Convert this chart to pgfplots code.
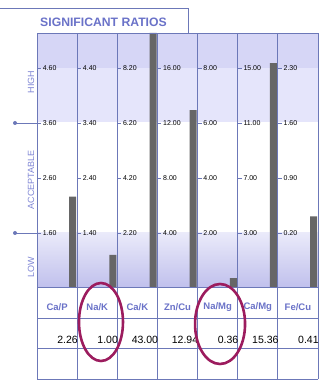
\documentclass[border=0pt]{standalone}
\usepackage{pgfplots}
\pgfplotsset{compat=1.18}
\usepackage{fontspec}
\setmainfont{Liberation Sans}
\definecolor{gridc}{HTML}{6C78B8}
\definecolor{hitop}{HTML}{D6D6F6}
\definecolor{hilow}{HTML}{E5E5FB}
\definecolor{lowb}{HTML}{E1E1F8}
\definecolor{barc}{HTML}{666666}
\definecolor{labc}{HTML}{6A72C8}
\definecolor{sidec}{HTML}{7E85D4}
\definecolor{ringc}{HTML}{9C1C5E}
\newcommand\tl[3]{\draw[gridc, line width=0.6pt] (axis cs:#1,#2) -- ([xshift=4pt]axis cs:#1,#2) node[right, font=\fontsize{7}{8}\selectfont, text=black, inner sep=1.5pt] {#3};}
\begin{document}
\begin{tikzpicture}
\path[use as bounding box] (0pt,0pt) rectangle (330pt,383pt);
\begin{axis}[
  at={(37pt,4pt)}, anchor=south west,
  scale only axis, width=281pt, height=346pt,
  xmin=0, xmax=7, ymin=-92, ymax=254,
  axis lines=none, clip=false,
]
% background bands
\fill[hitop] (axis cs:0,219) rectangle (axis cs:7,254);
\fill[hilow] (axis cs:0,165) rectangle (axis cs:7,219);
\fill[white] (axis cs:0,54) rectangle (axis cs:7,165);
\shade[top color=lowb!70!white, bottom color=lowb!90!blue!95!black] (axis cs:0,0) rectangle (axis cs:7,54);
\fill[white] (axis cs:0,-92) rectangle (axis cs:7,0);
% bars
\addplot[ybar, bar width=7pt, fill=barc, draw=none]
 table[x expr=\thisrow{c}+0.89, y expr={min(54+55*(\thisrow{v}-\thisrow{lo})/\thisrow{step},254)}] {
 c v lo step
 0 2.26 1.60 1.00
 1 1.00 1.40 1.00
 2 43.00 2.20 2.00
 3 12.94 4.00 4.00
 4 0.36 2.00 2.00
 5 15.36 3.00 4.00
 6 0.41 0.20 0.70
 };
% grid
\draw[gridc, line width=0.8pt] (axis cs:0,254) -- (axis cs:7,254);
\draw[gridc, line width=0.8pt] (axis cs:0,0) -- (axis cs:7,0);
\draw[gridc, line width=0.8pt] (axis cs:0,-31) -- (axis cs:7,-31);
\draw[gridc, line width=0.8pt] (axis cs:0,-61) -- (axis cs:7,-61);
\draw[gridc, line width=0.8pt] (axis cs:0,-92) -- (axis cs:7,-92);
\pgfplotsinvokeforeach{0,1,2,3,4,5,6,7}{\draw[gridc, line width=0.8pt] (axis cs:#1,-92) -- (axis cs:#1,254);}
% ticks
\tl{0}{54}{1.60}\tl{0}{109}{2.60}\tl{0}{164}{3.60}\tl{0}{219}{4.60}
\tl{1}{54}{1.40}\tl{1}{109}{2.40}\tl{1}{164}{3.40}\tl{1}{219}{4.40}
\tl{2}{54}{2.20}\tl{2}{109}{4.20}\tl{2}{164}{6.20}\tl{2}{219}{8.20}
\tl{3}{54}{4.00}\tl{3}{109}{8.00}\tl{3}{164}{12.00}\tl{3}{219}{16.00}
\tl{4}{54}{2.00}\tl{4}{109}{4.00}\tl{4}{164}{6.00}\tl{4}{219}{8.00}
\tl{5}{54}{3.00}\tl{5}{109}{7.00}\tl{5}{164}{11.00}\tl{5}{219}{15.00}
\tl{6}{54}{0.20}\tl{6}{109}{0.90}\tl{6}{164}{1.60}\tl{6}{219}{2.30}
% category names and values
\node[font=\fontsize{9.5}{10}\selectfont\bfseries, text=labc] at (axis cs:0.5,-20) {Ca/P};
\node[font=\fontsize{9.5}{10}\selectfont\bfseries, text=labc] at (axis cs:1.5,-20) {Na/K};
\node[font=\fontsize{9.5}{10}\selectfont\bfseries, text=labc] at (axis cs:2.5,-20) {Ca/K};
\node[font=\fontsize{9.5}{10}\selectfont\bfseries, text=labc] at (axis cs:3.5,-20) {Zn/Cu};
\node[font=\fontsize{9.5}{10}\selectfont\bfseries, text=labc] at (axis cs:4.5,-20) {Na/Mg};
\node[font=\fontsize{9.5}{10}\selectfont\bfseries, text=labc] at (axis cs:5.5,-20) {Ca/Mg};
\node[font=\fontsize{9.5}{10}\selectfont\bfseries, text=labc] at (axis cs:6.5,-20) {Fe/Cu};
\node[font=\fontsize{10.5}{11}\selectfont, anchor=east, inner sep=0pt] at (axis cs:1.02,-53) {2.26};
\node[font=\fontsize{10.5}{11}\selectfont, anchor=east, inner sep=0pt] at (axis cs:2.02,-53) {1.00};
\node[font=\fontsize{10.5}{11}\selectfont, anchor=east, inner sep=0pt] at (axis cs:3.02,-53) {43.00};
\node[font=\fontsize{10.5}{11}\selectfont, anchor=east, inner sep=0pt] at (axis cs:4.02,-53) {12.94};
\node[font=\fontsize{10.5}{11}\selectfont, anchor=east, inner sep=0pt] at (axis cs:5.02,-53) {0.36};
\node[font=\fontsize{10.5}{11}\selectfont, anchor=east, inner sep=0pt] at (axis cs:6.02,-53) {15.36};
\node[font=\fontsize{10.5}{11}\selectfont, anchor=east, inner sep=0pt] at (axis cs:7.02,-53) {0.41};
% rings
\draw[ringc, line width=2.6pt] (axis cs:1.594,-35) ellipse [x radius=22pt, y radius=39pt];
\draw[ringc, line width=2.6pt] (axis cs:4.56,-37) ellipse [x radius=25pt, y radius=40pt];
\end{axis}
% title box
\draw[gridc, line width=0.8pt] (0pt,375pt) -- (188pt,375pt) -- (188pt,350pt);
\node[font=\fontsize{12.2}{13}\selectfont\bfseries, text=labc] at (103.5pt,361pt) {SIGNIFICANT RATIOS};
% side labels
\node[rotate=90, font=\fontsize{9}{10}\selectfont, text=sidec] at (31pt,301pt) {HIGH};
\node[rotate=90, font=\fontsize{9}{10}\selectfont, text=sidec] at (31pt,203pt) {ACCEPTABLE};
\node[rotate=90, font=\fontsize{9}{10}\selectfont, text=sidec] at (31pt,116pt) {LOW};
\draw[gridc, line width=0.8pt] (15pt,260pt) -- (37pt,260pt);
\draw[gridc, line width=0.8pt] (15pt,150pt) -- (37pt,150pt);
\fill[gridc] (15pt,260pt) circle (2pt);
\fill[gridc] (15pt,150pt) circle (2pt);
\end{tikzpicture}
\end{document}
